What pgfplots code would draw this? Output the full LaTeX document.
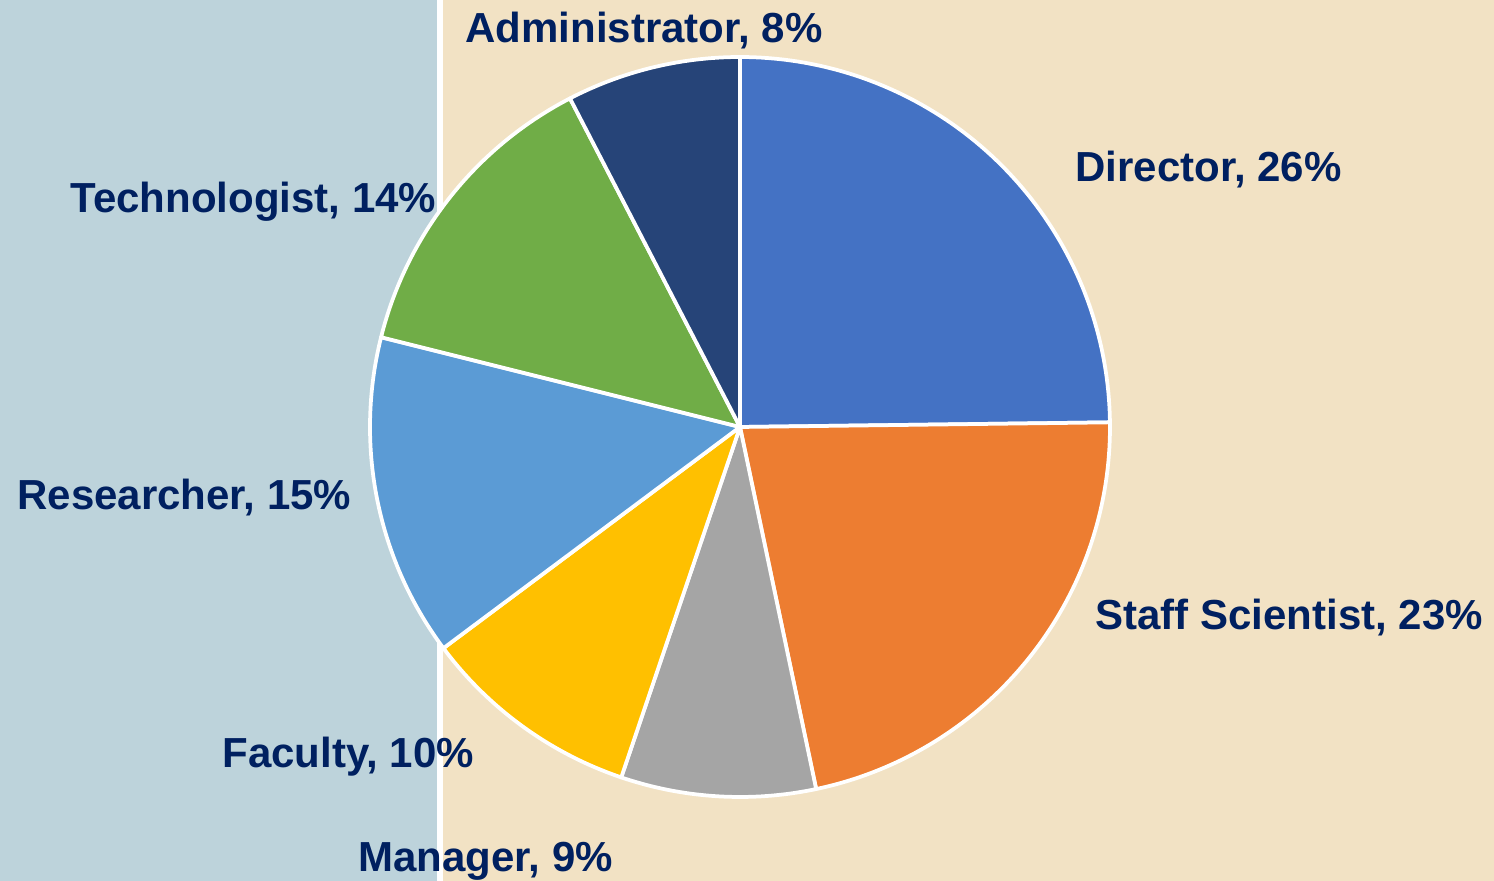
\documentclass[border=0pt]{standalone}
\usepackage{pgfplots}
\pgfplotsset{compat=1.18}
\usepgfplotslibrary{polar}
\usepackage{fontspec}
\setmainfont{Liberation Sans}
\definecolor{bgleft}{HTML}{BDD3DB}
\definecolor{bgright}{HTML}{F2E2C4}
\definecolor{txt}{HTML}{002060}
\definecolor{cDir}{HTML}{4472C4}
\definecolor{cStaff}{HTML}{ED7D31}
\definecolor{cMan}{HTML}{A5A5A5}
\definecolor{cFac}{HTML}{FFC000}
\definecolor{cRes}{HTML}{5B9BD5}
\definecolor{cTech}{HTML}{70AD47}
\definecolor{cAdm}{HTML}{264478}
% slice shares (percent of the full circle), clockwise from the top
\def\vDir{24.8}\def\vStaff{21.9}\def\vMan{8.5}\def\vFac{9.6}
\def\vRes{14.1}\def\vTech{13.5}\def\vAdm{7.6}
\pgfmathsetmacro\aA{90}
\pgfmathsetmacro\aB{\aA-3.6*\vDir}
\pgfmathsetmacro\aC{\aB-3.6*\vStaff}
\pgfmathsetmacro\aD{\aC-3.6*\vMan}
\pgfmathsetmacro\aE{\aD-3.6*\vFac}
\pgfmathsetmacro\aF{\aE-3.6*\vRes}
\pgfmathsetmacro\aG{\aF-3.6*\vTech}
\pgfmathsetmacro\aH{\aG-3.6*\vAdm}
\begin{document}
\begin{tikzpicture}
\begin{scope}[x=0.4pt,y=0.4pt]
\fill[bgleft] (0,0) rectangle (437,881);
\fill[white] (437,0) rectangle (443,881);
\fill[bgright] (443,0) rectangle (1494,881);
\end{scope}
\begin{polaraxis}[
  at={(296pt,181.6pt)}, anchor=center,
  scale only axis, width=296pt, height=296pt,
  ymin=0, ymax=1, hide axis, clip=false,
]
\addplot[draw=white, line width=1.5pt, line join=round, fill=cDir, domain=\aA:\aB, samples=80] {1} -- (axis cs:0,0) -- cycle;
\addplot[draw=white, line width=1.5pt, line join=round, fill=cStaff, domain=\aB:\aC, samples=80] {1} -- (axis cs:0,0) -- cycle;
\addplot[draw=white, line width=1.5pt, line join=round, fill=cMan, domain=\aC:\aD, samples=40] {1} -- (axis cs:0,0) -- cycle;
\addplot[draw=white, line width=1.5pt, line join=round, fill=cFac, domain=\aD:\aE, samples=40] {1} -- (axis cs:0,0) -- cycle;
\addplot[draw=white, line width=1.5pt, line join=round, fill=cRes, domain=\aE:\aF, samples=60] {1} -- (axis cs:0,0) -- cycle;
\addplot[draw=white, line width=1.5pt, line join=round, fill=cTech, domain=\aF:\aG, samples=60] {1} -- (axis cs:0,0) -- cycle;
\addplot[draw=white, line width=1.5pt, line join=round, fill=cAdm, domain=\aG:\aH, samples=40] {1} -- (axis cs:0,0) -- cycle;
\end{polaraxis}
\begin{scope}[x=0.4pt,y=0.4pt,every node/.style={anchor=base west, inner sep=0pt, text=txt, font=\fontsize{16.8}{20}\selectfont\bfseries}]
\node at (1075,699) {Director, 26\%};
\node at (1095,251) {Staff Scientist, 23\%};
\node at (358,9) {Manager, 9\%};
\node at (222,113) {Faculty, 10\%};
\node at (17,371) {Researcher, 15\%};
\node at (70,668) {Technologist, 14\%};
\node at (465,838) {Administrator, 8\%};
\end{scope}
\pgfresetboundingbox
\path (0,0) rectangle (597.6pt,352.4pt);
\end{tikzpicture}
\end{document}
